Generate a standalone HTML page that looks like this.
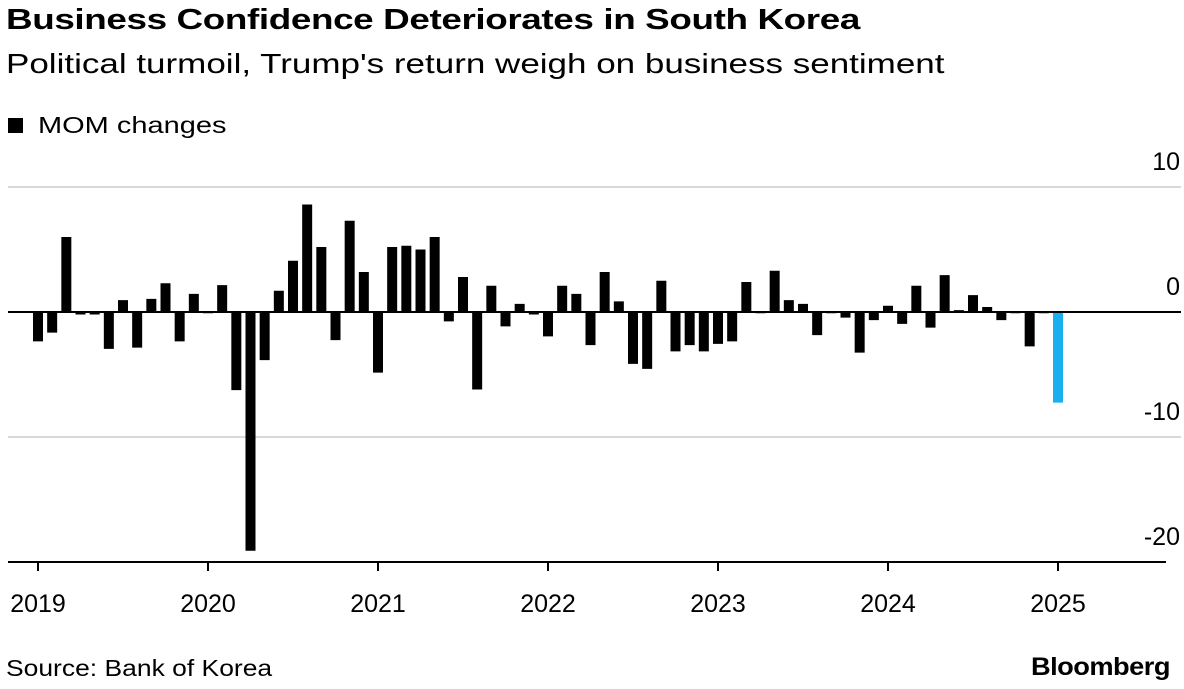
<!DOCTYPE html>
<html><head><meta charset="utf-8"><style>
body{margin:0;background:#fff;font-family:"Liberation Sans",sans-serif;}
#wrap{position:relative;width:1184px;height:689px;overflow:hidden;}
.t{position:absolute;white-space:nowrap;color:#000;transform-origin:left top;}
</style></head><body>
<div id="wrap">
<div class="t" style="left:6px;top:4px;font-size:29px;font-weight:bold;letter-spacing:-0.3px;transform:scaleX(1.27);">Business Confidence Deteriorates in South Korea</div>
<div class="t" style="left:6px;top:48px;font-size:28px;transform:scaleX(1.25);">Political turmoil, Trump's return weigh on business sentiment</div>
<div style="position:absolute;left:8px;top:118px;width:15px;height:15px;background:#000;"></div>
<div class="t" style="left:38px;top:112px;font-size:23px;transform:scaleX(1.26);">MOM changes</div>
<svg id="chart" width="1184" height="689" style="position:absolute;left:0;top:0"></svg>
<div class="t" style="left:6px;top:655px;font-size:23px;transform:scaleX(1.15);">Source: Bank of Korea</div>
<div class="t" style="left:1031px;top:653px;font-size:25px;font-weight:bold;letter-spacing:-0.5px;transform:scaleX(1.09);">Bloomberg</div>
</div>
<script>
const years=["2019","2020","2021","2022","2023","2024","2025"];
const yTicks=[10,0,-10,-20];
const values2019=[-2.35,-1.65,6.0,-0.2,-0.2,-2.95,0.95,-2.85,1.05,2.3,-2.35,1.45];
const values2020=[-0.1,2.15,-6.25,-19.1,-3.85,1.7,4.1,8.6,5.2,-2.25,7.3,3.2];
const values2021=[-4.85,5.2,5.3,5.0,6.0,-0.75,2.8,-6.2,2.1,-1.15,0.65,-0.2];
const values2022=[-1.95,2.1,1.45,-2.65,3.2,0.85,-4.15,-4.55,2.5,-3.15,-2.65,-3.15];
const values2023=[-2.55,-2.35,2.4,-0.1,3.3,0.95,0.65,-1.85,-0.1,-0.45,-3.25,-0.65];
const values2024=[0.5,-0.95,2.1,-1.25,2.95,0.15,1.35,0.4,-0.65,-0.1,-2.75,-0.1];
const values2025=[-7.25];
const values=[].concat(values2019,values2020,values2021,values2022,values2023,values2024,values2025);
const NS="http://www.w3.org/2000/svg";
const svg=document.getElementById('chart');
const y=v=>312-v*12.5;
const x=i=>38+i*170/12;
function mk(tag,attrs){const e=document.createElementNS(NS,tag);for(const k in attrs)e.setAttribute(k,attrs[k]);svg.appendChild(e);return e;}
yTicks.forEach(t=>{
  if(t!==0&&t!==-20){const g=mk('line',{x1:8,x2:1181,y1:y(t),y2:y(t),stroke:'#d9d9d9','stroke-width':2});
  
  }
  const l=mk('text',{x:1180,y:y(t)-17,'text-anchor':'end','font-size':25,'font-family':'Liberation Sans, sans-serif'});
  l.textContent=t;
  
  
});
values.forEach((v,i)=>{
  const top=Math.min(y(v),y(0)),h=Math.max(Math.abs(y(v)-y(0)),1);
  const r=mk('rect',{x:x(i)-5,y:top,width:10,height:h,fill:i===values.length-1?'#1ab0f0':'#000'});
  
  
});
const z=mk('line',{x1:8,x2:1181,y1:y(0),y2:y(0),stroke:'#000','stroke-width':2});


const ax=mk('line',{x1:8,x2:1166,y1:562,y2:562,stroke:'#000','stroke-width':2});


years.forEach((yr,k)=>{
  const xx=x(k*12);
  const tk=mk('line',{x1:xx,x2:xx,y1:562,y2:571,stroke:'#000','stroke-width':2});
  
  
  const tl=mk('text',{x:xx,y:612,'text-anchor':'middle','font-size':25,'font-family':'Liberation Sans, sans-serif'});
  tl.textContent=yr;
  
  
});
</script>
</body></html>
